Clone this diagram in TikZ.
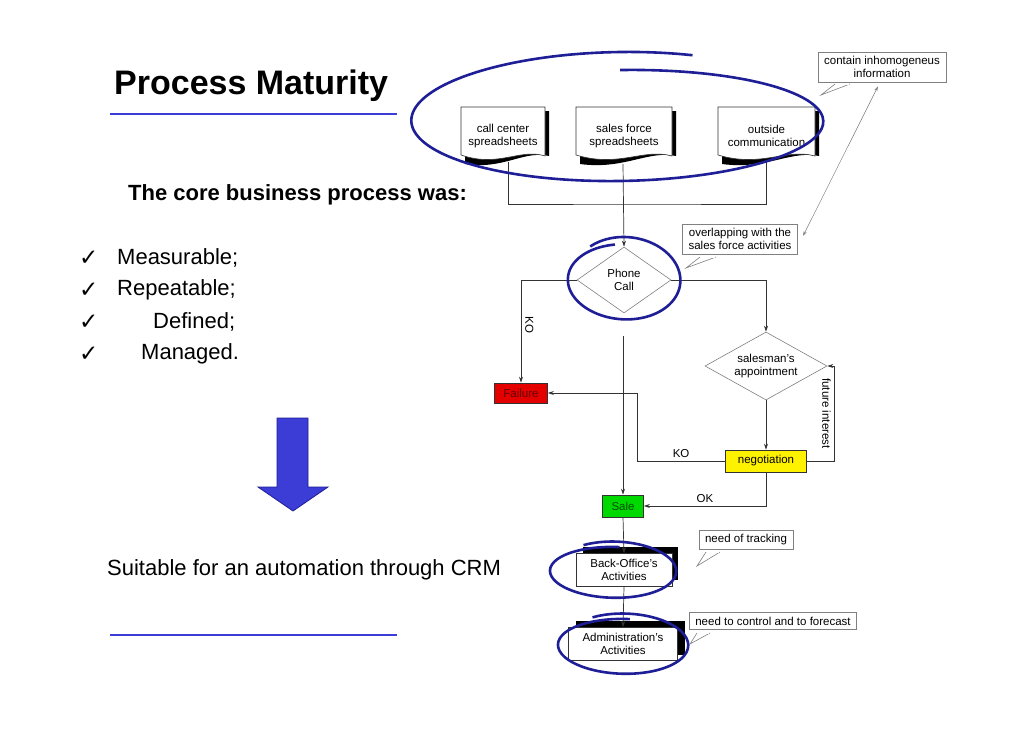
\documentclass[tikz,border=0pt]{standalone}
\usepackage{fontspec}
\setmainfont{Liberation Sans}
\newfontfamily\djv{DejaVu Sans}
\usetikzlibrary{shapes.geometric,arrows.meta}
\definecolor{pen}{RGB}{30,30,150}
\definecolor{arrblue}{RGB}{60,60,215}
\begin{document}
\begin{tikzpicture}[x=1pt,y=-1pt,
  every node/.style={font=\fontsize{11.5}{13.5}\selectfont, align=center, inner sep=0},
  ln/.style={draw=black!80, line width=0.7pt},
  arr/.style={ln, -{Stealth[length=6pt,width=4pt]}},
  box/.style={draw=black!80, line width=0.7pt, minimum height=21pt},
  dia/.style={diamond, draw=black!50, line width=0.6pt, aspect=1.5},
  note/.style={draw=black!50, line width=0.6pt, fill=white, inner xsep=6pt, inner ysep=4pt},
  ring/.style={draw=pen, line width=2.6pt},
  big/.style={font=\fontsize{22}{25}\selectfont, anchor=west}]
\useasboundingbox (0,0) rectangle (1030,728);
\fill[white] (0,0) rectangle (1030,728);

% left column
\node[anchor=west, font=\bfseries\fontsize{34}{37}\selectfont] (title) at (114,86) {Process Maturity};
\draw[arrblue, line width=1.2pt] (110,114) -- (397,114);
\node[anchor=west, font=\bfseries\fontsize{22}{25}\selectfont] (core) at (128,195) {The core business process was:};
\foreach \y/\t/\xx in {258/Measurable;/117, 290/Repeatable;/117, 322/Defined;/153, 354/Managed./141}{
  \node[big] at (79,\y) {\djv\fontsize{23}{24}\selectfont ✓};
  \node[big] at (\xx,\y) {\t};
}
\draw[fill=arrblue, draw=pen, line width=0.8pt] (277,418) -- (308,418) -- (308,487) -- (328,487)
  -- (293,511) -- (258,487) -- (277,487) -- cycle;
\node[big] (suit) at (107,570) {Suitable for an automation through CRM};
\draw[arrblue, line width=1.2pt] (110,635) -- (397,635);

% documents
\foreach \n/\xa/\xb/\t in {cc/461/545/{call center\\spreadsheets}, sf/576/672/{sales force\\spreadsheets}, oc/718/815/{outside\\communication}}{
  \fill[black] (\xa+4,111) -- (\xb+4,111) -- (\xb+4,156)
    .. controls ({\xb-(\xb-\xa)*0.25},150) and ({\xa+(\xb-\xa)*0.5},170) .. (\xa+4,164) -- cycle;
  \draw[black!80, fill=white, line width=0.6pt] (\xa,107) -- (\xb,107) -- (\xb,156)
    .. controls ({\xb-(\xb-\xa)*0.3},148) and ({\xa+(\xb-\xa)*0.45},168) .. (\xa,155) -- cycle;
  \node (\n) at ({(\xa+\xb)/2},136) {\t};
}
\coordinate (ccb) at (508,162);
\coordinate (sfb) at (623,164);
\coordinate (ocb) at (766,160);
\draw[ln] (ccb) |- (637,204) -| (ocb);

% flow nodes
\node[dia, minimum width=94pt, minimum height=66pt] (phone) at (624,280) {Phone\\Call};
\node[dia, minimum width=122pt, minimum height=68pt] (sales) at (766,366) {salesman's\\appointment};
\node[box, fill=red!90!black, text=red!40!black, minimum width=53pt, minimum height=20pt] (fail) at (521,393) {Failure};
\node[box, fill=yellow, minimum width=81pt, minimum height=22pt] (neg) at (766,461) {negotiation};
\node[box, fill=green!85!black, text=green!30!black, minimum width=41pt, minimum height=22pt] (sale) at (623,506) {Sale};
\fill (583,547) rectangle (678,580);
\node[box, fill=white, minimum width=96pt, minimum height=33pt] (bo) at (624,570) {Back-Office's\\Activities};
\fill (576,621) rectangle (685,655);
\node[box, fill=white, minimum width=109pt, minimum height=33pt] (adm) at (623,644) {Administration's\\Activities};

\draw[arr] (sfb) -- (phone.north);
\draw[arr] (phone.west) -| (fail.north) node[pos=0.72, right=4pt, rotate=-90, anchor=south] {KO};
\draw[arr] (phone.east) -| (sales.north);
\draw[arr] (sales.south) -- (neg.north);
\draw[arr] (neg.east) -| (834,366) node[pos=0.75, rotate=-90, anchor=north, yshift=-3pt] {future interest} -- (sales.east);
\draw[arr] (neg.west) -| (637,393) node[pos=0.25, above=3pt] {KO} -- (fail.east);
\coordinate (mid) at (623,336);
\draw[arr] (mid) -- (sale.north);
\draw[arr] (neg.south) |- (sale.east) node[pos=0.75, above=3pt] {OK};
\draw[arr] (sale.south) -- (bo.north);
\draw[arr] (bo.south) -- (adm.north);

% notes
\node[note] (n1) at (882,67) {contain inhomogeneus\\information};
\node[note] (n2) at (740,239) {overlapping with the\\sales force activities};
\node[note] (n3) at (746,540) {need of tracking};
\node[note] (n4) at (773,621) {need to control and to forecast};
\draw[black!50, line width=0.6pt, fill=white] (835,84) -- (821,95) -- (850,84);
\draw[black!50, line width=0.6pt, fill=white] (700,257) -- (686,268) -- (716,257);
\draw[black!50, line width=0.6pt, fill=white] (706,552) -- (697,566) -- (720,552);
\draw[black!50, line width=0.6pt, fill=white] (697,633) -- (690,644) -- (710,633);
\draw[white, line width=1pt] (836,84) -- (849,84);
\draw[white, line width=1pt] (701,257) -- (715,257);
\draw[white, line width=1pt] (707,552) -- (719,552);
\draw[white, line width=1pt] (698,633) -- (709,633);
\draw[black!50, line width=0.5pt, {Stealth[length=5pt,width=3pt]}-{Stealth[length=5pt,width=3pt]}] (n1.south) ++(-4,4) -- (803,236);

% hand-drawn rings
\draw[ring] plot[domain=70:450, samples=90, smooth] ({620+(212-0.03*(\x-70))*cos(\x)}, {121-(70-0.05*(\x-70))*sin(\x)});
\draw[ring] plot[domain=100:490, samples=60, smooth] ({625+(58-0.01*(\x-100))*cos(\x)}, {280-(36+0.02*(\x-100))*sin(\x)});
\draw[ring] plot[domain=85:480, samples=60, smooth] ({614+(65-0.01*(\x-85))*cos(\x)}, {571-(24+0.015*(\x-85))*sin(\x)});
\draw[ring] plot[domain=85:480, samples=60, smooth] ({624+(67-0.01*(\x-85))*cos(\x)}, {645-(26+0.015*(\x-85))*sin(\x)});
\end{tikzpicture}
\end{document}
